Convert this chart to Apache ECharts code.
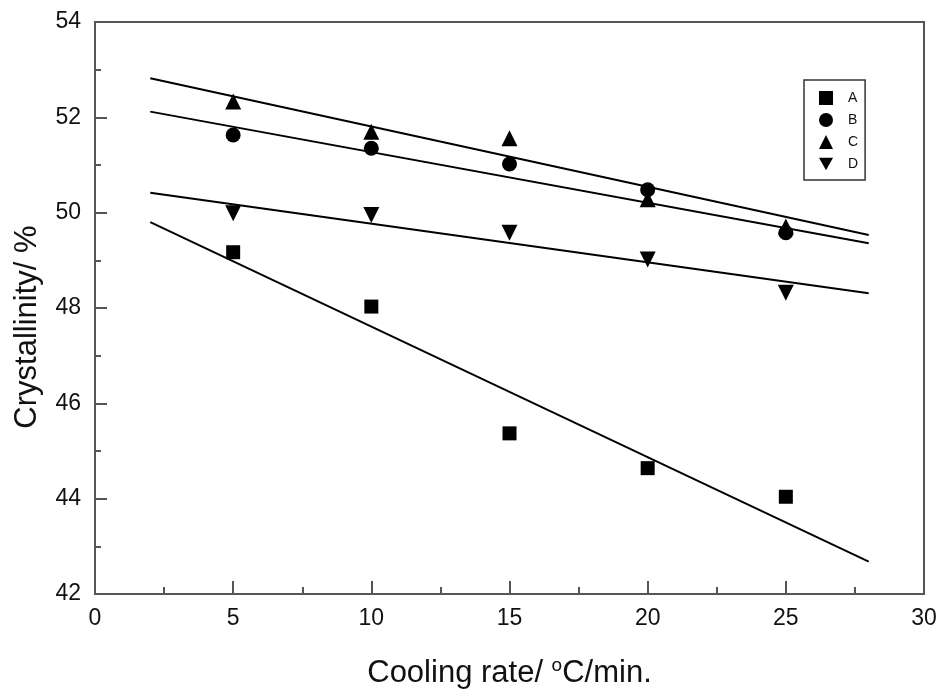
<!DOCTYPE html>
<html>
<head>
<meta charset="utf-8">
<script src="https://cdn.jsdelivr.net/npm/echarts@6/dist/echarts.min.js"></script>
<style>
  html, body { margin: 0; padding: 0; background: #fff; }
  #main { width: 940px; height: 691px; }
</style>
</head>
<body>
<div id="main"></div>
<script>
  // cooling rates where samples were measured
  var rates = [5, 10, 15, 20, 25];
  var seriesA = [49.17, 48.03, 45.37, 44.64, 44.04];
  var seriesB = [51.63, 51.35, 51.02, 50.48, 49.58];
  var seriesC = [52.33, 51.70, 51.56, 50.28, 49.71];
  var seriesD = [49.99, 49.95, 49.58, 49.02, 48.32];
  // fitted lines, end points at x = 2 and x = 28
  var fitX = [2, 28];
  var fitA = [49.80, 42.68];
  var fitB = [52.12, 49.36];
  var fitC = [52.82, 49.53];
  var fitD = [50.42, 48.31];
  var names = ['A', 'B', 'C', 'D'];

  function pts(xs, ys) {
    return xs.map(function (x, i) { return [x, ys[i]]; });
  }

  var fontFam = '"Liberation Sans", Arial, sans-serif';
  var axisCol = '#555';

  var scatterDefs = [
    {name: 'A', data: seriesA, symbol: 'rect', size: 14},
    {name: 'B', data: seriesB, symbol: 'circle', size: 15},
    {name: 'C', data: seriesC, symbol: 'triangle', size: 16},
    {name: 'D', data: seriesD, symbol: 'path://M0,0 L10,0 L5,9 Z', size: 16}
  ];
  var fits = [fitA, fitB, fitC, fitD];

  var series = [];
  fits.forEach(function (f, i) {
    series.push({
      name: 'fit ' + names[i],
      type: 'line',
      data: pts(fitX, f),
      showSymbol: false,
      symbol: 'none',
      silent: true,
      lineStyle: {color: '#000', width: 2},
      z: 2
    });
  });
  scatterDefs.forEach(function (s) {
    series.push({
      name: s.name,
      type: 'scatter',
      data: pts(rates, s.data),
      symbol: s.symbol,
      symbolSize: s.size,
      itemStyle: {color: '#000', opacity: 1},
      z: 3
    });
  });

  var chart = echarts.init(document.getElementById('main'));
  chart.setOption({
    animation: false,
    textStyle: {fontFamily: fontFam},
    grid: {
      left: 95, right: 16, top: 22, bottom: 97,
      outerBoundsMode: 'none',
      show: true, borderColor: axisCol, borderWidth: 2
    },
    legend: {
      data: names,
      orient: 'vertical',
      left: 804, top: 80,
      padding: [11, 7, 9, 15],
      itemWidth: 14, itemHeight: 14, itemGap: 8,
      borderColor: '#333', borderWidth: 1.5,
      textStyle: {color: '#111', fontSize: 14, padding: [0, 0, 0, 10]},
      itemStyle: {color: '#000', opacity: 1}
    },
    xAxis: {
      type: 'value',
      min: 0, max: 30, interval: 5,
      name: 'Cooling rate/ {sup|o}C/min.',
      nameLocation: 'middle',
      nameGap: 62,
      nameTextStyle: {
        fontSize: 31, color: '#111',
        rich: {sup: {fontSize: 19, verticalAlign: 'top', padding: [0, 0, 15, 0], color: '#111'}}
      },
      axisLine: {lineStyle: {color: axisCol, width: 2}},
      axisTick: {inside: true, length: 13, lineStyle: {color: axisCol, width: 2}},
      minorTick: {show: true, splitNumber: 2, length: 7, lineStyle: {color: axisCol, width: 2}},
      splitLine: {show: false},
      axisLabel: {fontSize: 23, color: '#111', margin: 13}
    },
    yAxis: {
      type: 'value',
      min: 42, max: 54, interval: 2,
      name: 'Crystallinity/ %',
      nameLocation: 'middle',
      nameGap: 52,
      nameTextStyle: {fontSize: 31, color: '#111', padding: [0, 38, 0, 0]},
      axisLine: {lineStyle: {color: axisCol, width: 2}},
      axisTick: {inside: true, length: 12, lineStyle: {color: axisCol, width: 2}},
      minorTick: {show: true, splitNumber: 2, length: 6, lineStyle: {color: axisCol, width: 2}},
      splitLine: {show: false},
      axisLabel: {fontSize: 23, color: '#111', margin: 14}
    },
    series: series
  });
</script>
</body>
</html>
